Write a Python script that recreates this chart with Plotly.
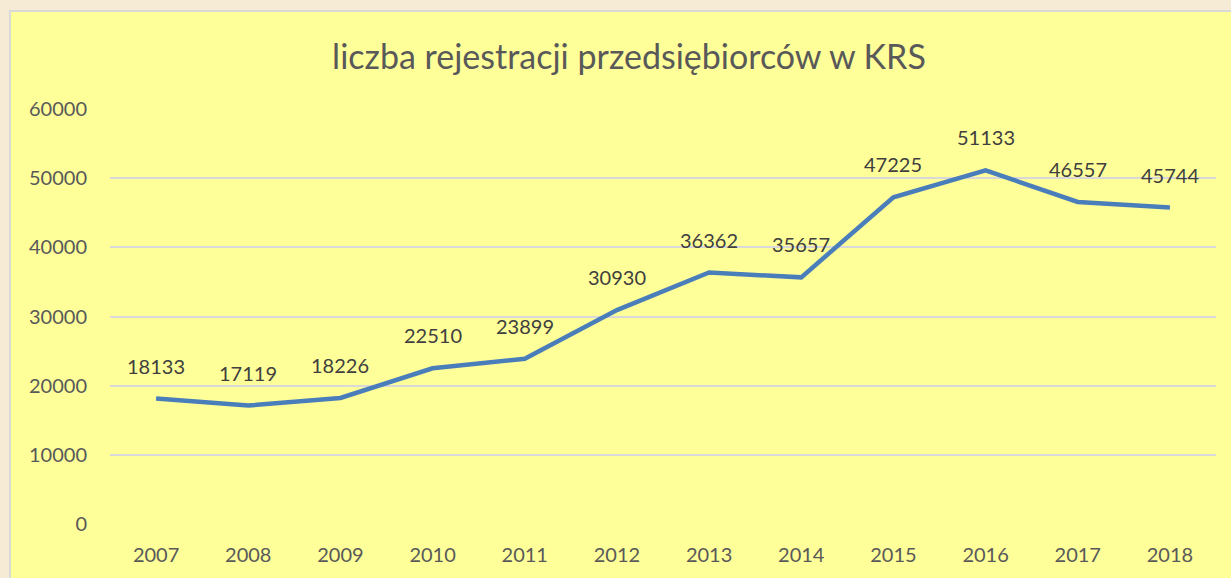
import plotly.graph_objects as go

years = ["2007", "2008", "2009", "2010", "2011", "2012", "2013", "2014", "2015", "2016", "2017", "2018"]
values = [18133, 17119, 18226, 22510, 23899, 30930, 36362, 35657, 47225, 51133, 46557, 45744]
y_ticks = [0, 10000, 20000, 30000, 40000, 50000, 60000]

W, H = 1231, 578
L, R, T, B = 110, 15, 109, 54
pw, ph = W - L - R, H - T - B
FONT = "Lato, Open Sans, sans-serif"

fig = go.Figure()
fig.add_trace(go.Scatter(
    x=years, y=values, mode="lines",
    line=dict(color="#4A7EBB", width=4.5),
    hoverinfo="x+y",
))

for i, v in enumerate(values):
    fig.add_annotation(x=i, y=v, xref="x", yref="y", text=str(v), showarrow=False, yshift=33,
                       font=dict(family=FONT, size=20, color="#404040"))

fig.add_shape(type="rect", xref="paper", yref="paper", layer="below",
              x0=(10 - L) / pw, x1=1.2, y0=-0.3, y1=(H - B - 11) / ph,
              fillcolor="#FFFF99", line=dict(color="#D9D9D9", width=2))

fig.update_layout(
    width=W, height=H,
    margin=dict(l=L, r=R, t=T, b=B, autoexpand=False),
    paper_bgcolor="#F6ECD6",
    plot_bgcolor="rgba(0,0,0,0)",
    showlegend=False,
    title=dict(text="liczba rejestracji przedsiębiorców w KRS", x=629 / W, xanchor="center",
               xref="container", y=1 - 57 / H, yanchor="middle",
               font=dict(family=FONT, size=34, color="#595959")),
    xaxis=dict(type="category", range=[-0.5, 11.5], showgrid=False, showline=False, ticks="",
               automargin=False,
               tickfont=dict(family=FONT, size=20, color="#595959"),
               ticklabelstandoff=17),
    yaxis=dict(range=[0, 60000], tickvals=y_ticks, ticktext=[str(t) for t in y_ticks],
               showgrid=True, gridcolor="#D9D9D9", automargin=False,
               gridwidth=2, zeroline=False, showline=False, ticks="",
               tickfont=dict(family=FONT, size=20, color="#595959"),
               ticklabelstandoff=22),
)

fig.write_html("out.html", config={"displayModeBar": False},
               post_script="document.body.style.margin='0';document.body.style.background='#F6ECD6';")
